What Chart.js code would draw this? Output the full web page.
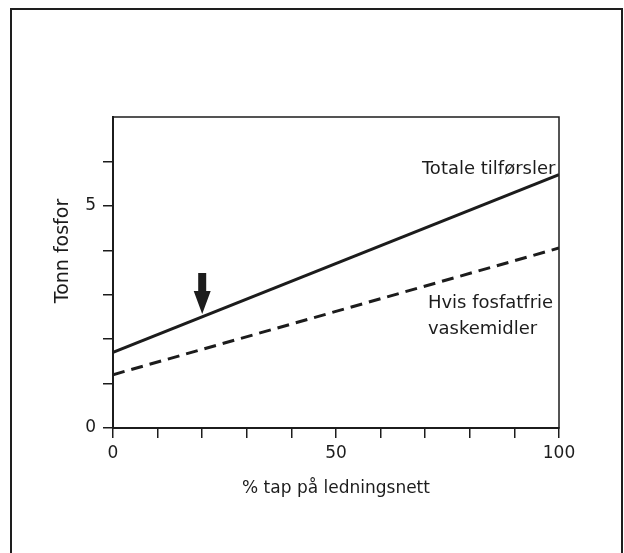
<!DOCTYPE html>
<html>
<head>
<meta charset="utf-8">
<script src="https://cdn.jsdelivr.net/npm/chart.js@4"></script>
<style>
  html, body { margin: 0; padding: 0; background: #fff; }
  #wrap { position: relative; width: 624px; height: 553px; overflow: hidden; }
  #frame { position: absolute; left: 10px; top: 8px; width: 609px; height: 560px; border: 2px solid #1e1e1e; border-bottom: none; pointer-events: none; }
  canvas { position: absolute; left: 0; top: 0; }
</style>
</head>
<body>
<div id="wrap">
  <canvas id="chart" width="624" height="553"></canvas>
  <div id="frame"></div>
</div>
<script>
// data
const xValues = [0, 100];
const totalValues = [1.7, 5.7];
const phosphateFreeValues = [1.2, 4.05];
const xTickLabels = [0, 50, 100];
const yTickLabels = [0, 5];
const arrowPoint = [20, 2.5];
const seriesNames = ['Totale tilførsler', 'Hvis fosfatfrie', 'vaskemidler'];
const xTitle = '% tap på ledningsnett';
const yTitle = 'Tonn fosfor';

const ink = '#1c1c1c';
const font = '"DejaVu Sans", sans-serif';
const yMax = 7;

const toPoints = vals => xValues.map((x, i) => ({ x: x, y: vals[i] }));

// plot box, arrow, line labels and y title
const annotate = {
    id: 'annotate',
    afterDraw(chart) {
        const { ctx, chartArea: a, scales: { x, y } } = chart;
        ctx.save();

        ctx.strokeStyle = ink;
        ctx.lineWidth = 1.5;
        ctx.strokeRect(a.left, a.top, a.right - a.left, a.bottom - a.top);

        // arrow pointing down at the line
        const ax = x.getPixelForValue(arrowPoint[0]);
        const ay = y.getPixelForValue(arrowPoint[1]) - 3;
        ctx.fillStyle = ink;
        ctx.beginPath();
        ctx.moveTo(ax, ay);
        ctx.lineTo(ax - 8.5, ay - 23);
        ctx.lineTo(ax - 4, ay - 23);
        ctx.lineTo(ax - 4, ay - 41);
        ctx.lineTo(ax + 4, ay - 41);
        ctx.lineTo(ax + 4, ay - 23);
        ctx.lineTo(ax + 8.5, ay - 23);
        ctx.closePath();
        ctx.fill();

        ctx.fillStyle = ink;
        ctx.font = '18px ' + font;
        ctx.textBaseline = 'alphabetic';
        ctx.textAlign = 'right';
        ctx.fillText(seriesNames[0], x.getPixelForValue(99.2), y.getPixelForValue(5.72));
        ctx.textAlign = 'left';
        ctx.fillText(seriesNames[1], x.getPixelForValue(70.6), y.getPixelForValue(2.71));
        ctx.fillText(seriesNames[2], x.getPixelForValue(70.6), y.getPixelForValue(2.11));

        ctx.translate(a.left - 50, a.top + 134);
        ctx.rotate(-Math.PI / 2);
        ctx.textAlign = 'center';
        ctx.textBaseline = 'middle';
        ctx.font = '19px ' + font;
        ctx.fillText(yTitle, 0, 0);
        ctx.restore();
    }
};

new Chart(document.getElementById('chart'), {
    type: 'scatter',
    data: {
        datasets: [
            {
                label: seriesNames[0],
                data: toPoints(totalValues),
                showLine: true,
                borderColor: ink,
                borderWidth: 3,
                pointRadius: 0
            },
            {
                label: seriesNames[1] + ' ' + seriesNames[2],
                data: toPoints(phosphateFreeValues),
                showLine: true,
                borderColor: ink,
                borderWidth: 3,
                borderDash: [12, 7],
                pointRadius: 0
            }
        ]
    },
    options: {
        responsive: false,
        animation: false,
        layout: { padding: { top: 117, right: 65, left: 0, bottom: 0 } },
        plugins: {
            legend: { display: false },
            tooltip: { enabled: false }
        },
        scales: {
            x: {
                type: 'linear',
                min: 0,
                max: 100,
                afterFit: s => { s.height = 125; },
                grid: { drawOnChartArea: false, drawTicks: true, tickLength: 10, color: ink, lineWidth: 1.5 },
                border: { display: true, color: ink, width: 2 },
                ticks: {
                    stepSize: 10,
                    padding: 5,
                    maxRotation: 0,
                    color: ink,
                    font: { family: font, size: 17 },
                    callback: v => xTickLabels.includes(v) ? String(v) : ''
                },
                title: {
                    display: true,
                    text: xTitle,
                    color: ink,
                    font: { family: font, size: 17 },
                    padding: { top: 0, bottom: 54 }
                }
            },
            y: {
                min: 0,
                max: yMax,
                afterFit: s => { s.width = 113; },
                grid: {
                    drawOnChartArea: false,
                    drawTicks: true,
                    tickLength: 10,
                    lineWidth: 1.5,
                    // no tick mark at the top corner of the box
                    color: c => (c.tick && c.tick.value === yMax) ? 'rgba(0,0,0,0)' : ink
                },
                border: { display: true, color: ink, width: 2 },
                ticks: {
                    stepSize: 1,
                    padding: 7,
                    color: ink,
                    font: { family: font, size: 17 },
                    callback: v => yTickLabels.includes(v) ? String(v) : ''
                },
                title: { display: false }
            }
        }
    },
    plugins: [annotate]
});
</script>
</body>
</html>
